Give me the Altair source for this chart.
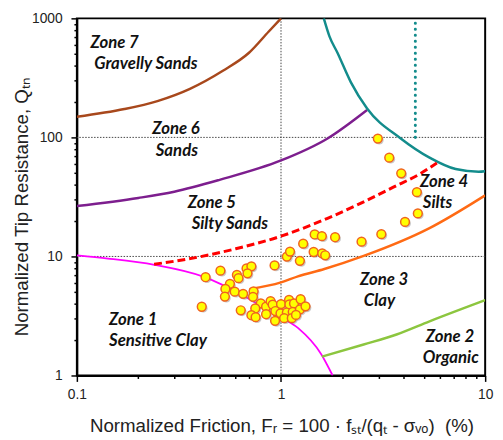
import altair as alt
import pandas as pd

# ---- boundary curves (Fr %, Qtn) ----
z7_fr = [0.1, 0.171, 0.248, 0.358, 0.519, 0.697, 0.871, 1.0]
z7_q = [149, 173, 202, 256, 363, 514, 776, 1000]
z6_fr = [0.1, 0.2, 0.3, 0.5, 1.0, 1.69, 2.64]
z6_q = [26.5, 31, 35, 44, 64, 98, 170]
teal_fr = [1.62, 1.727, 1.89, 2.20, 2.64, 3.83, 5.34, 7.17, 9.29, 10]
teal_q = [1000, 706, 514, 290, 175, 98.9, 67.6, 54.2, 51.5, 52]
red_fr = [0.239, 0.345, 0.6, 1.0, 1.69, 2.45, 3.55, 4.78, 5.8]
red_q = [8.6, 9.48, 11.6, 14.8, 20.9, 27.9, 38.2, 49.3, 61]
orange_fr = [0.7, 1.0, 1.21, 1.63, 2.54, 5.34, 10]
orange_q = [5.3, 6.05, 6.8, 7.84, 10.1, 17.3, 32.6]
mag_fr = [0.1, 0.142, 0.24, 0.423, 0.648, 0.938, 1.214, 1.574, 1.79]
mag_q = [10.2, 9.6, 8.5, 6.7, 4.72, 3.23, 2.5, 1.51, 1.0]
green_fr = [1.585, 2.54, 3.68, 5.34, 10]
green_q = [1.44, 1.82, 2.21, 2.85, 4.29]
dot_fr = [4.55]
dot_q_low = [100]
dot_q_high = [950]

# ---- CPT data points ----
pt_fr = [0.427, 0.505, 0.608, 0.619, 0.678, 0.716, 0.685, 0.930, 0.562, 0.534,
         0.593, 0.531, 0.409, 0.652, 0.734, 0.729, 0.635, 0.796, 0.748, 0.716,
         0.751, 0.845, 0.845, 0.889, 0.910, 1.0, 0.938, 0.935, 0.994, 1.095,
         1.099, 1.158, 1.247, 1.068, 1.141, 1.237, 1.318, 1.036, 1.129, 1.184,
         1.068, 1.107, 1.237, 1.284, 1.445, 1.592, 1.646,
         1.462, 1.585, 1.84, 2.48, 3.10, 4.05, 4.68, 4.63, 3.88, 3.39, 2.98]
pt_q = [6.69, 7.59, 6.99, 6.57, 7.94, 8.26, 7.22, 8.41, 5.89, 5.33,
        5.06, 4.60, 3.78, 4.85, 5.09, 4.58, 3.53, 4.03, 3.66, 3.21,
        3.09, 3.78, 3.27, 4.21, 3.93, 3.98, 3.48, 2.88, 3.33, 4.32,
        3.95, 4.03, 4.37, 3.38, 3.42, 3.59, 3.81, 3.03, 3.03, 3.23,
        9.98, 10.98, 9.18, 12.8, 10.9, 10.6, 10.23,
        15.3, 14.8, 14.5, 13.3, 15.4, 19.5, 23.0, 34.7, 49.9, 67.6, 97.8]

# ---- zone labels ----
lab_text = ["Zone 7", "Gravelly Sands", "Zone 6", "Sands", "Zone 5", "Silty Sands",
            "Zone 4", "Silts", "Zone 3", "Clay", "Zone 1", "Sensitive Clay",
            "Zone 2", "Organic"]
lab_fr = [0.1165, 0.1217, 0.234, 0.2435, 0.349, 0.365, 4.79, 4.95, 2.435, 2.546,
          0.1438, 0.1438, 5.12, 4.95]
lab_q = [622, 417, 117, 76.8, 28.0, 18.6, 41.8, 28.0, 6.36, 4.23, 2.92, 1.957, 2.11, 1.39]

# ---- grid / ticks ----
grid_q = [10, 100]
grid_fr = [1]
x_ticks = [0.1, 0.2, 0.3, 0.4, 0.5, 0.6, 0.7, 0.8, 0.9, 1, 2, 3, 4, 5, 6, 7, 8, 9, 10]
y_ticks = [1, 2, 3, 4, 5, 6, 7, 8, 9, 10, 20, 30, 40, 50, 60, 70, 80, 90,
           100, 200, 300, 400, 500, 600, 700, 800, 900, 1000]

x_title = "Normalized Friction, F\u1d63 = 100 \u00b7 f\u209b\u209c/(q\u209c - \u03c3\u1d65\u2092)\u00a0 (%)"
y_title = "Normalized Tip Resistance, Q\u209c\u2099"

xs = alt.Scale(type="log", domain=[0.1, 10], nice=False)
ys = alt.Scale(type="log", domain=[1, 1000], nice=False)

xmajor = "indexof([0.1, 1, 10], datum.value) >= 0"
ymajor = "indexof([1, 10, 100, 1000], datum.value) >= 0"

common_axis = dict(
    format="~g", grid=False, domainColor="black", domainWidth=2,
    tickColor="black", tickWidth=1.5, labelFont="Liberation Sans",
    labelFontSize=14, labelColor="#222", labelOverlap=False, labelFlush=False,
    labelBound=False, titleFont="Liberation Sans",
    titleFontSize=19, titleFontWeight="normal", titleColor="#222",
    titleAlign="center", titleBaseline="middle",
)
x_axis = alt.Axis(values=x_ticks, title=x_title,
                  labelExpr=f"{xmajor} ? datum.label : ''",
                  tickSize={"condition": {"test": xmajor, "value": 6}, "value": 3},
                  labelPadding=6, titleX=208, titleY=51, **common_axis)
y_axis = alt.Axis(values=y_ticks, title=y_title,
                  labelExpr=f"{ymajor} ? datum.label : ''",
                  tickSize={"condition": {"test": ymajor, "value": 6}, "value": 3},
                  labelPadding=9, titleX=-56, titleY=191, titleAngle=-90, **common_axis)


def X(field="fr"):
    return alt.X(f"{field}:Q", scale=xs, axis=x_axis)


def Y(field="q"):
    return alt.Y(f"{field}:Q", scale=ys, axis=y_axis)


layers = []

# grid
layers.append(alt.Chart(pd.DataFrame({"q": grid_q})).mark_rule(
    color="#444", strokeWidth=1, strokeDash=[1.5, 1.5]).encode(y=Y()))
layers.append(alt.Chart(pd.DataFrame({"fr": grid_fr})).mark_rule(
    color="#444", strokeWidth=1, strokeDash=[1.5, 1.5]).encode(x=X()))


def curve(frs, qs, color, width, dash=None):
    df = pd.DataFrame({"fr": frs, "q": qs, "i": list(range(len(frs)))})
    kw = dict(color=color, strokeWidth=width, interpolate="monotone", clip=True)
    if dash:
        kw["strokeDash"] = dash
    return alt.Chart(df).mark_line(**kw).encode(x=X(), y=Y(), order="i:Q")


layers.append(curve(z7_fr, z7_q, "#A8481C", 2.5))
layers.append(curve(z6_fr, z6_q, "#7D1E8E", 2.5))
layers.append(curve(teal_fr, teal_q, "#138C8C", 2.5))
layers.append(curve(orange_fr, orange_q, "#FF6A14", 2.5))
layers.append(curve(mag_fr, mag_q, "#FF00FF", 1.8))
layers.append(curve(green_fr, green_q, "#8CC63F", 2.5))
layers.append(curve(red_fr, red_q, "#FF0000", 3, dash=[8, 4]))

layers.append(alt.Chart(pd.DataFrame({"fr": dot_fr, "q": dot_q_low, "q2": dot_q_high}))
              .mark_rule(color="#138C8C", strokeWidth=3, strokeDash=[0.1, 6],
                         strokeCap="round")
              .encode(x=X(), y=Y(), y2="q2:Q"))

pts = pd.DataFrame({"fr": pt_fr, "q": pt_q})
layers.append(alt.Chart(pts).mark_circle(size=80, color="#888", opacity=0.45,
                                         xOffset=1.5, yOffset=1.5)
              .encode(x=X(), y=Y()))
layers.append(alt.Chart(pts).mark_point(filled=True, shape="circle", size=80,
                                        fill="#FFFF00", stroke="#F0641E",
                                        strokeWidth=1.5, opacity=1)
              .encode(x=X(), y=Y()))

labs = pd.DataFrame({"fr": lab_fr, "q": lab_q, "t": lab_text})
layers.append(alt.Chart(labs).mark_text(font="Lato", fontSize=17, fontWeight="bold",
                                        fontStyle="italic", align="left",
                                        baseline="middle", color="#111")
              .encode(x=X(), y=Y(), text="t:N"))

chart = alt.layer(*layers).properties(
    width=415, height=363,
    autosize=alt.AutoSizeParams(type="none"),
    padding={"left": 70, "top": 7, "right": 10, "bottom": 60},
).configure_view(stroke="black", strokeWidth=2)

chart.save("out.html", embed_options={"renderer": "svg", "actions": False})
